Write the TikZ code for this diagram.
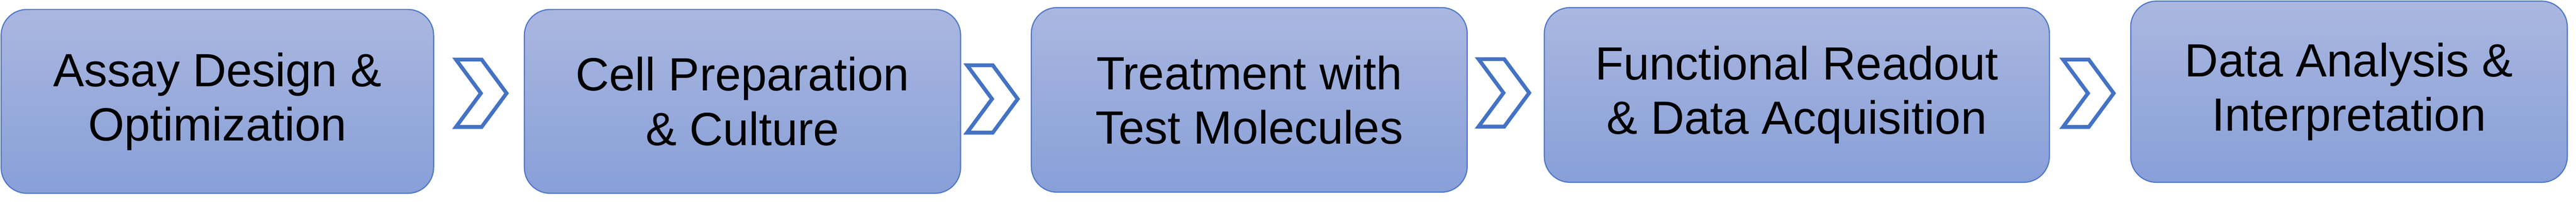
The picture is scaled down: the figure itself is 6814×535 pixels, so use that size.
\documentclass[tikz,border=0pt]{standalone}
\usepackage{fontspec}
\setmainfont{Liberation Sans}
\usetikzlibrary{positioning,calc}

\definecolor{stageline}{RGB}{80,120,200}
\definecolor{stagetop}{RGB}{170,183,224}
\definecolor{stagebot}{RGB}{136,159,216}
\definecolor{chevline}{RGB}{68,114,196}

\begin{document}
\begin{tikzpicture}[x=0.1mm, y=-0.1mm,
		chev/.pic={\draw[chevline, line width=1mm, fill=white] (-66,-89) -- (2,-89) -- (68,0) -- (2,89) -- (-66,89) -- (0,0) -- cycle;}]
		\tikzset{stage/.style={rectangle, inner sep=0pt, draw=stageline, line width=0.3mm, rounded corners=6.8mm, top color=stagetop, bottom color=stagebot, align=center, font=\fontsize{35}{40.8}\selectfont}}
		\useasboundingbox (0,0) rectangle (6814,535);

		\node[stage, minimum width=114.4mm, minimum height=48.5mm] (assay) at (575,267.5) {Assay Design \&\\Optimization};
		\node[stage, minimum width=115.4mm, minimum height=48.5mm] (cell) at (1964,267.5) {Cell Preparation\\\& Culture};
		\node[stage, minimum width=115.3mm, minimum height=48.7mm] (treat) at (3304.5,263.5) {Treatment with\\Test Molecules};
		\node[stage, minimum width=133.6mm, minimum height=46.1mm] (readout) at (4753,250.5) {Functional Readout\\\& Data Acquisition};
		\node[stage, minimum width=115.5mm, minimum height=47.8mm] (analysis) at (6213.5,242) {Data Analysis \&\\Interpretation};

		\pic at (1272,246) {chev};
		\pic at (2624,261) {chev};
		\pic at (3977,245) {chev};
		\pic at (5523,246) {chev};

	\end{tikzpicture}
\end{document}
